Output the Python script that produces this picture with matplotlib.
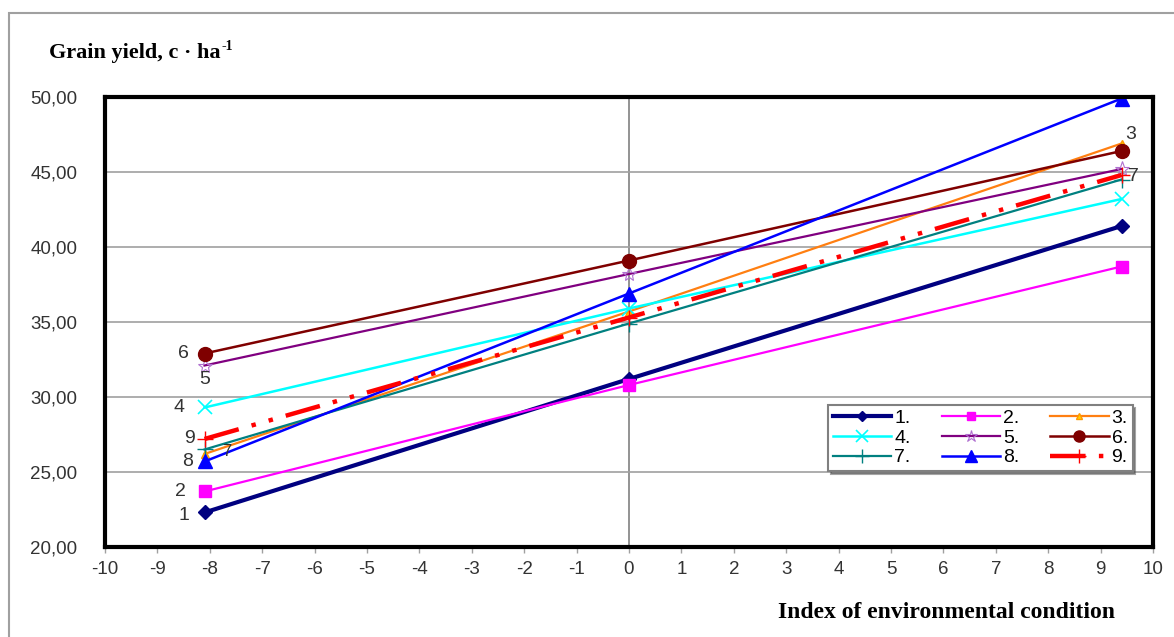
import matplotlib.pyplot as plt

plt.rcParams['font.family'] = ['Liberation Sans', 'DejaVu Sans']
plt.rcParams['axes.unicode_minus'] = False

# environmental index at the three points
env_index = [-8.1, 0.0, 9.4]

# grain yield per variety (c/ha)
y1 = [22.3, 31.2, 41.4]
y2 = [23.7, 30.8, 38.7]
y3 = [26.2, 35.7, 46.9]
y4 = [29.3, 35.9, 43.2]
y5 = [32.1, 38.2, 45.2]
y6 = [32.9, 39.1, 46.4]
y7 = [26.5, 34.9, 44.5]
y8 = [25.7, 36.9, 49.9]
y9 = [27.2, 35.3, 44.8]

series_names = ['1.', '2.', '3.', '4.', '5.', '6.', '7.', '8.', '9.']
x_ticks = list(range(-10, 11))
y_ticks = [20, 25, 30, 35, 40, 45, 50]

fig = plt.figure(figsize=(11.74, 6.37), dpi=100)
ax = fig.add_axes([0.0894, 0.1413, 0.8927, 0.7064])

# outer chart frame
fig.add_artist(plt.Rectangle((9 / 1174, -0.05), 1.2, 1 - 13 / 637 + 0.05,
                             transform=fig.transFigure, fill=False,
                             edgecolor='#a0a0a0', linewidth=1.5))

styles = [
    dict(color='#000080', marker='D', ms=7, lw=3.0, mfc='#000080', mec='#000080'),
    dict(color='#ff00ff', marker='s', ms=8, lw=1.6, mfc='#ff00ff', mec='#ff00ff'),
    dict(color='#ff7f11', marker='^', ms=6, lw=1.6, mfc='#ffd000', mec='#ff9900'),
    dict(color='#00ffff', marker='x', ms=10, lw=1.8, mec='#00ffff', mew=1.2),
    dict(color='#800080', marker='*', ms=11, lw=1.6, mfc='none', mec='#b070d0', mew=0.8),
    dict(color='#7f0000', marker='o', ms=10, lw=1.8, mfc='#7f0000', mec='#7f0000'),
    dict(color='#008080', marker='+', ms=12, lw=1.6, mec='#008080', mew=1.0),
    dict(color='#0000ff', marker='^', ms=10, lw=1.8, mfc='#0000ff', mec='#0000ff'),
    dict(color='#ff0000', marker='+', ms=12, lw=3.2, mec='#ff0000', mew=1.0,
         dashes=(8, 3, 1, 3, 1, 3)),
]
all_y = [y1, y2, y3, y4, y5, y6, y7, y8, y9]

lines = []
for yv, name, st in zip(all_y, series_names, styles):
    ln, = ax.plot(env_index, yv, label=name, zorder=3, **st)
    lines.append(ln)

ax.set_xlim(-10, 10)
ax.set_ylim(20, 50)
ax.set_xticks(x_ticks)
ax.set_yticks(y_ticks)
ax.set_yticklabels([f'{v:.2f}'.replace('.', ',') for v in y_ticks])
ax.tick_params(axis='x', direction='out', length=4, width=1, color='#a0a0a0',
               labelsize=13.5, pad=6, labelcolor='#333333')
ax.tick_params(axis='y', length=0, labelsize=13.5, pad=20, labelcolor='#333333')
ax.grid(axis='y', color='#a0a0a0', linewidth=1.2, zorder=0)
ax.axvline(0, color='#808080', linewidth=1.2, zorder=1)
for sp in ax.spines.values():
    sp.set_linewidth(3)
    sp.set_color('black')
    sp.set_zorder(5)

# series numbers beside the points
left_labels = [('1', 0, (-21, -3)), ('2', 1, (-24, 0)), ('4', 3, (-26, 0)),
               ('5', 4, (0, -14)), ('6', 5, (-21, 0)), ('8', 7, (-17, 0)),
               ('9', 8, (-15, 0))]
for txt, i, off in left_labels:
    ax.annotate(txt, (env_index[0], all_y[i][0]), xytext=off,
                textcoords='offset pixels', ha='center', va='center',
                fontsize=14, color='#333333')
ax.annotate('7', (env_index[0], y7[0]), xytext=(22, -2), textcoords='offset pixels',
            ha='center', va='center', fontsize=12, color='#333333')
ax.annotate('3', (env_index[2], y3[2]), xytext=(9, 9), textcoords='offset pixels',
            ha='center', va='center', fontsize=14, color='#333333')
ax.annotate('7', (env_index[2], y7[2]), xytext=(12, 3), textcoords='offset pixels',
            ha='center', va='center', fontsize=14, color='#333333')

# legend filled row by row like the original
order = [0, 3, 6, 1, 4, 7, 2, 5, 8]
leg = ax.legend([lines[i] for i in order], [series_names[i] for i in order],
                ncol=3, loc='upper left', bbox_to_anchor=(0.690, 0.316),
                borderaxespad=0, fontsize=14, frameon=True, fancybox=False,
                shadow=True, edgecolor='#808080', handlelength=3.0,
                handletextpad=0.15, columnspacing=1.6, labelspacing=0.1,
                borderpad=0.25, markerscale=0.8)
leg.get_frame().set_linewidth(1.5)

title = fig.text(49 / 1174, 1 - 53 / 637, 'Grain yield, c \u00b7 ha',
                 fontsize=16, fontweight='bold', family='Liberation Serif',
                 ha='left', va='center')
fig.canvas.draw()
bb = title.get_window_extent()
fig.text((bb.x1 + 1) / 1174, 1 - 47 / 637, '-1', fontsize=10, fontweight='bold',
         family='Liberation Serif', ha='left', va='center')
fig.text(1115 / 1174, 1 - 612 / 637, 'Index of environmental condition',
         fontsize=17, fontweight='bold', family='Liberation Serif',
         ha='right', va='center')

fig.savefig('out.png', dpi=100, facecolor='white')
